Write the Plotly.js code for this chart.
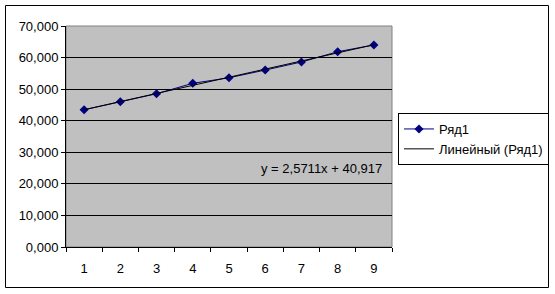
<!DOCTYPE html>
<html>
<head>
<meta charset="utf-8">
<script src="https://cdn.plot.ly/plotly-3.0.1.min.js"></script>
<style>html,body{margin:0;padding:0;background:#fff;}#chart{width:555px;height:294px;}</style>
</head>
<body>
<div id="chart"></div>
<script>
const categories = ["1", "2", "3", "4", "5", "6", "7", "8", "9"];
const seriesValues = [43.45, 46.0, 48.55, 51.85, 53.6, 56.05, 58.6, 61.85, 64.0];
const seriesName = "Ряд1";
const trendName = "Линейный (Ряд1)";
const trendSlope = 2.5711;
const trendIntercept = 40.917;
const trendLabel = "y = 2,5711x + 40,917";
const yTickValues = [0, 10, 20, 30, 40, 50, 60, 70];

const trendValues = categories.map(c => trendSlope * Number(c) + trendIntercept);

const font = {family: "Liberation Sans, Arial, sans-serif", size: 13, color: "#000"};

const data = [
  {
    x: categories, y: seriesValues, name: seriesName, type: "scatter", mode: "lines+markers",
    line: {color: "#000080", width: 1},
    marker: {symbol: "diamond", size: 7, color: "#000080"}
  },
  {
    x: categories, y: trendValues, name: trendName, type: "scatter", mode: "lines",
    line: {color: "#000000", width: 1}
  }
];

const W = 555, H = 294;
const L = 66, R = 392, T = 26, B = 247;
const px = v => (v - L) / (R - L);
const py = v => (B - v) / (B - T);

const layout = {
  width: W, height: H,
  margin: {l: L, r: W - R, t: T, b: H - B, pad: 0, autoexpand: false},
  paper_bgcolor: "#ffffff",
  plot_bgcolor: "#c0c0c0",
  separators: ", ",
  font: font,
  showlegend: true,
  xaxis: {
    type: "category", range: [-0.5, 8.5], tickson: "boundaries",
    ticks: "outside", ticklen: 4, tickcolor: "#000", tickwidth: 1,
    showline: true, linecolor: "#000", linewidth: 1,
    showgrid: false, zeroline: false, fixedrange: true,
    ticklabelstandoff: 9, automargin: false,
    tickfont: font
  },
  yaxis: {
    range: [0, 70], tickvals: yTickValues, tickformat: ".3f",
    ticks: "outside", ticklen: 4, tickcolor: "#000", tickwidth: 1,
    showline: true, linecolor: "#000", linewidth: 1,
    showgrid: true, gridcolor: "#000", gridwidth: 1,
    zeroline: false, fixedrange: true, automargin: false,
    tickfont: font
  },
  legend: {
    xref: "container", yref: "container",
    x: 398 / W, y: 1 - 113 / H, xanchor: "left", yanchor: "top",
    bgcolor: "#fff", bordercolor: "#000", borderwidth: 1,
    font: font, tracegroupgap: 0, itemwidth: 30
  },
  annotations: [{
    text: trendLabel, xref: "paper", yref: "paper",
    x: px(384), y: py(169), xanchor: "right", yanchor: "middle",
    showarrow: false, font: font
  }],
  shapes: [
    {type: "rect", xref: "paper", yref: "paper", x0: 0, x1: 1, y0: 0, y1: 1,
     line: {color: "#808080", width: 1}, fillcolor: "rgba(0,0,0,0)", layer: "below"},
    {type: "rect", xref: "paper", yref: "paper", x0: px(5.5), x1: px(548.5), y0: py(287.5), y1: py(5.5),
     line: {color: "#000", width: 1}, fillcolor: "rgba(0,0,0,0)"}
  ]
};

Plotly.newPlot("chart", data, layout, {displayModeBar: false, staticPlot: true});
</script>
</body>
</html>
